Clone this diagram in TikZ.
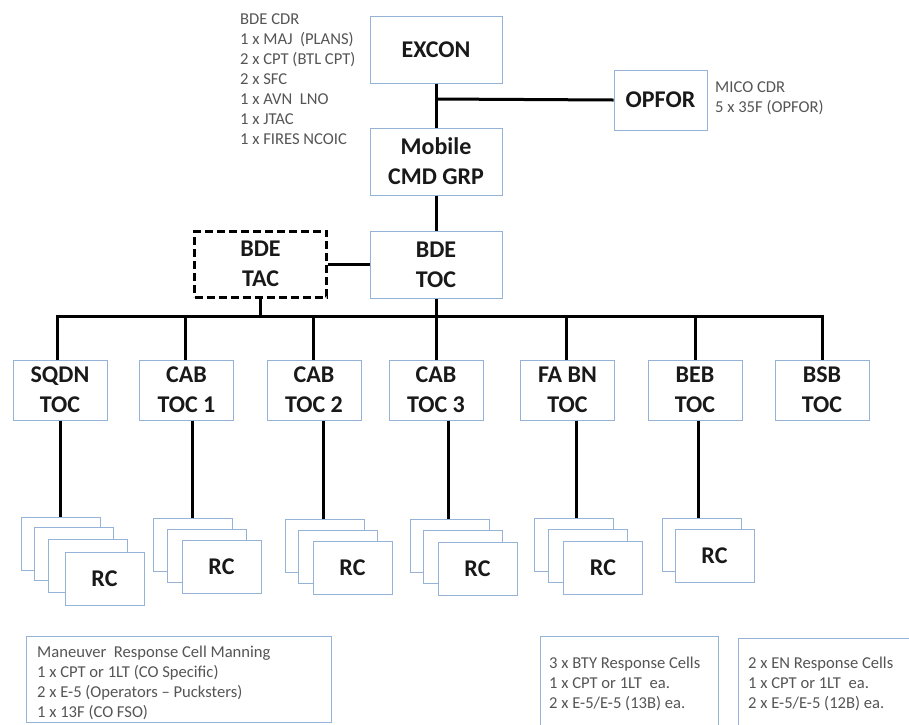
\documentclass[tikz,border=0pt]{standalone}
\usepackage{fontspec}
\setmainfont{Carlito}
\definecolor{boxblue}{RGB}{149,179,215}
\definecolor{labelc}{RGB}{25,25,25}
\definecolor{smallc}{RGB}{85,85,85}
\begin{document}
\begin{tikzpicture}[x=1pt,y=-1pt,
  box/.style={draw=boxblue, line width=1pt, fill=white, inner sep=0pt, font=\fontsize{24}{30}\selectfont\bfseries, text=labelc, align=center},
  bigbox/.style={box, minimum width=132pt, minimum height=67pt},
  tocbox/.style={box, minimum width=94pt, minimum height=60pt},
  rcbox/.style={box, minimum width=79pt, minimum height=53pt},
  conn/.style={line width=3pt, draw=black},
  small/.style={font=\fontsize{16.6}{20}\selectfont, text=smallc, align=left, inner sep=0pt, anchor=north west},
  framebox/.style={draw=boxblue, line width=1pt}
]
\clip (0,0) rectangle (909,724);
\fill[white] (0,0) rectangle (909,724);

% top nodes
\node[bigbox] (excon) at (436,49.5) {EXCON};
\node[bigbox] (mobile) at (436,161.5) {Mobile\\CMD GRP};
\node[box, minimum width=93pt, minimum height=60pt] (opfor) at (660.5,100) {OPFOR};
\node[bigbox] (toc) at (436,264.5) {BDE\\TOC};
\node[box, draw=black, line width=3pt, dash pattern=on 8pt off 4pt, minimum width=132pt, minimum height=66pt] (tac) at (260.5,264) {BDE\\TAC};

\node[small] (cdr) at (240,13.3) {BDE CDR\\1 x MAJ\ \ (PLANS)\\2 x CPT (BTL CPT)\\2 x SFC\\1 x AVN\ \ LNO\\1 x JTAC\\1 x FIRES NCOIC};
\node[small] (mico) at (715,81.7) {MICO CDR\\5 x 35F (OPFOR)};

% second row
\node[tocbox] (sqdn) at (60,390) {SQDN\\TOC};
\node[tocbox] (cab1) at (186.5,390) {CAB\\TOC 1};
\node[tocbox] (cab2) at (314,390) {CAB\\TOC 2};
\node[tocbox] (cab3) at (436,390) {CAB\\TOC 3};
\node[tocbox] (fabn) at (567.5,390) {FA BN\\TOC};
\node[tocbox] (beb) at (695,390) {BEB\\TOC};
\node[tocbox] (bsb) at (822,390) {BSB\\TOC};

% connectors top
\coordinate (j1) at (436,99);
\coordinate (busy) at (0,316);
\draw[conn] (excon.south) -- (mobile.north);
\draw[conn] (j1) -- (opfor.west);
\draw[conn] (mobile.south) -- (toc.north);
\draw[conn] (tac.east |- toc.west) -- (toc.west);
\draw[conn] (toc.south) -- (toc.south |- busy);
\draw[conn] (tac.south) -- (tac.south |- busy);
\draw[conn] ([xshift=-3pt]sqdn.north) -- ([xshift=-3pt]sqdn.north |- busy) -- (bsb.north |- busy) -- (bsb.north);
\draw[conn] ([xshift=-1.5pt]cab1.north) -- ([xshift=-1.5pt]cab1.north |- busy);
\draw[conn] ([xshift=-1pt]cab2.north) -- ([xshift=-1pt]cab2.north |- busy);
\draw[conn] (cab3.north) -- (cab3.north |- busy);
\draw[conn] ([xshift=-1.5pt]fabn.north) -- ([xshift=-1.5pt]fabn.north |- busy);
\draw[conn] (beb.north) -- (beb.north |- busy);

% RC stacks
\node[rcbox] (s1) at (60.5,544) {};
\node[rcbox] (s2) at (73.5,554) {};
\node[rcbox] (s3) at (88,565.5) {};
\node[rcbox] (s4) at (104.5,578.5) {RC};

\node[rcbox] (a1) at (193,545) {};
\node[rcbox] (a2) at (206.5,555.5) {};
\node[rcbox] (a3) at (221.5,566.5) {RC};

\node[rcbox] (b1) at (325,546) {};
\node[rcbox] (b2) at (338,556.5) {};
\node[rcbox] (b3) at (352.5,568) {RC};

\node[rcbox] (c1) at (450,546) {};
\node[rcbox] (c2) at (463,557) {};
\node[rcbox] (c3) at (477.5,569) {RC};

\node[rcbox] (f1) at (574,545) {};
\node[rcbox] (f2) at (587.5,556) {};
\node[rcbox] (f3) at (603,567.5) {RC};

\node[rcbox] (e1) at (702,545) {};
\node[rcbox] (e2) at (714.5,555.5) {RC};

% TOC to RC connectors
\draw[conn] (sqdn.south) -- (sqdn.south |- s1.north);
\draw[conn] ([xshift=5.5pt]cab1.south) -- ([xshift=5.5pt]cab1.south |- a1.north);
\draw[conn] ([xshift=9pt]cab2.south) -- ([xshift=9pt]cab2.south |- b1.north);
\draw[conn] ([xshift=12pt]cab3.south) -- ([xshift=12pt]cab3.south |- c1.north);
\draw[conn] ([xshift=8.5pt]fabn.south) -- ([xshift=8.5pt]fabn.south |- f1.north);
\draw[conn] ([xshift=3pt]beb.south) -- ([xshift=3pt]beb.south |- e1.north);

% bottom manning boxes
\draw[framebox] (26,636) rectangle (331,722);
\node[small] (man) at (37,645.3) {Maneuver\ \ Response Cell Manning\\1 x CPT or 1LT (CO Specific)\\2 x E-5 (Operators -- Pucksters)\\1 x 13F (CO FSO)};
\draw[framebox] (540,730) |- (718,636) -- (718,730);
\node[small] (bty) at (549,656.3) {3 x BTY Response Cells\\1 x CPT or 1LT\ \ ea.\\2 x E-5/E-5 (13B) ea.};
\draw[framebox] (738,730) |- (915,638);
\node[small] (en) at (748,656.3) {2 x EN Response Cells\\1 x CPT or 1LT\ \ ea.\\2 x E-5/E-5 (12B) ea.};
\end{tikzpicture}
\end{document}
